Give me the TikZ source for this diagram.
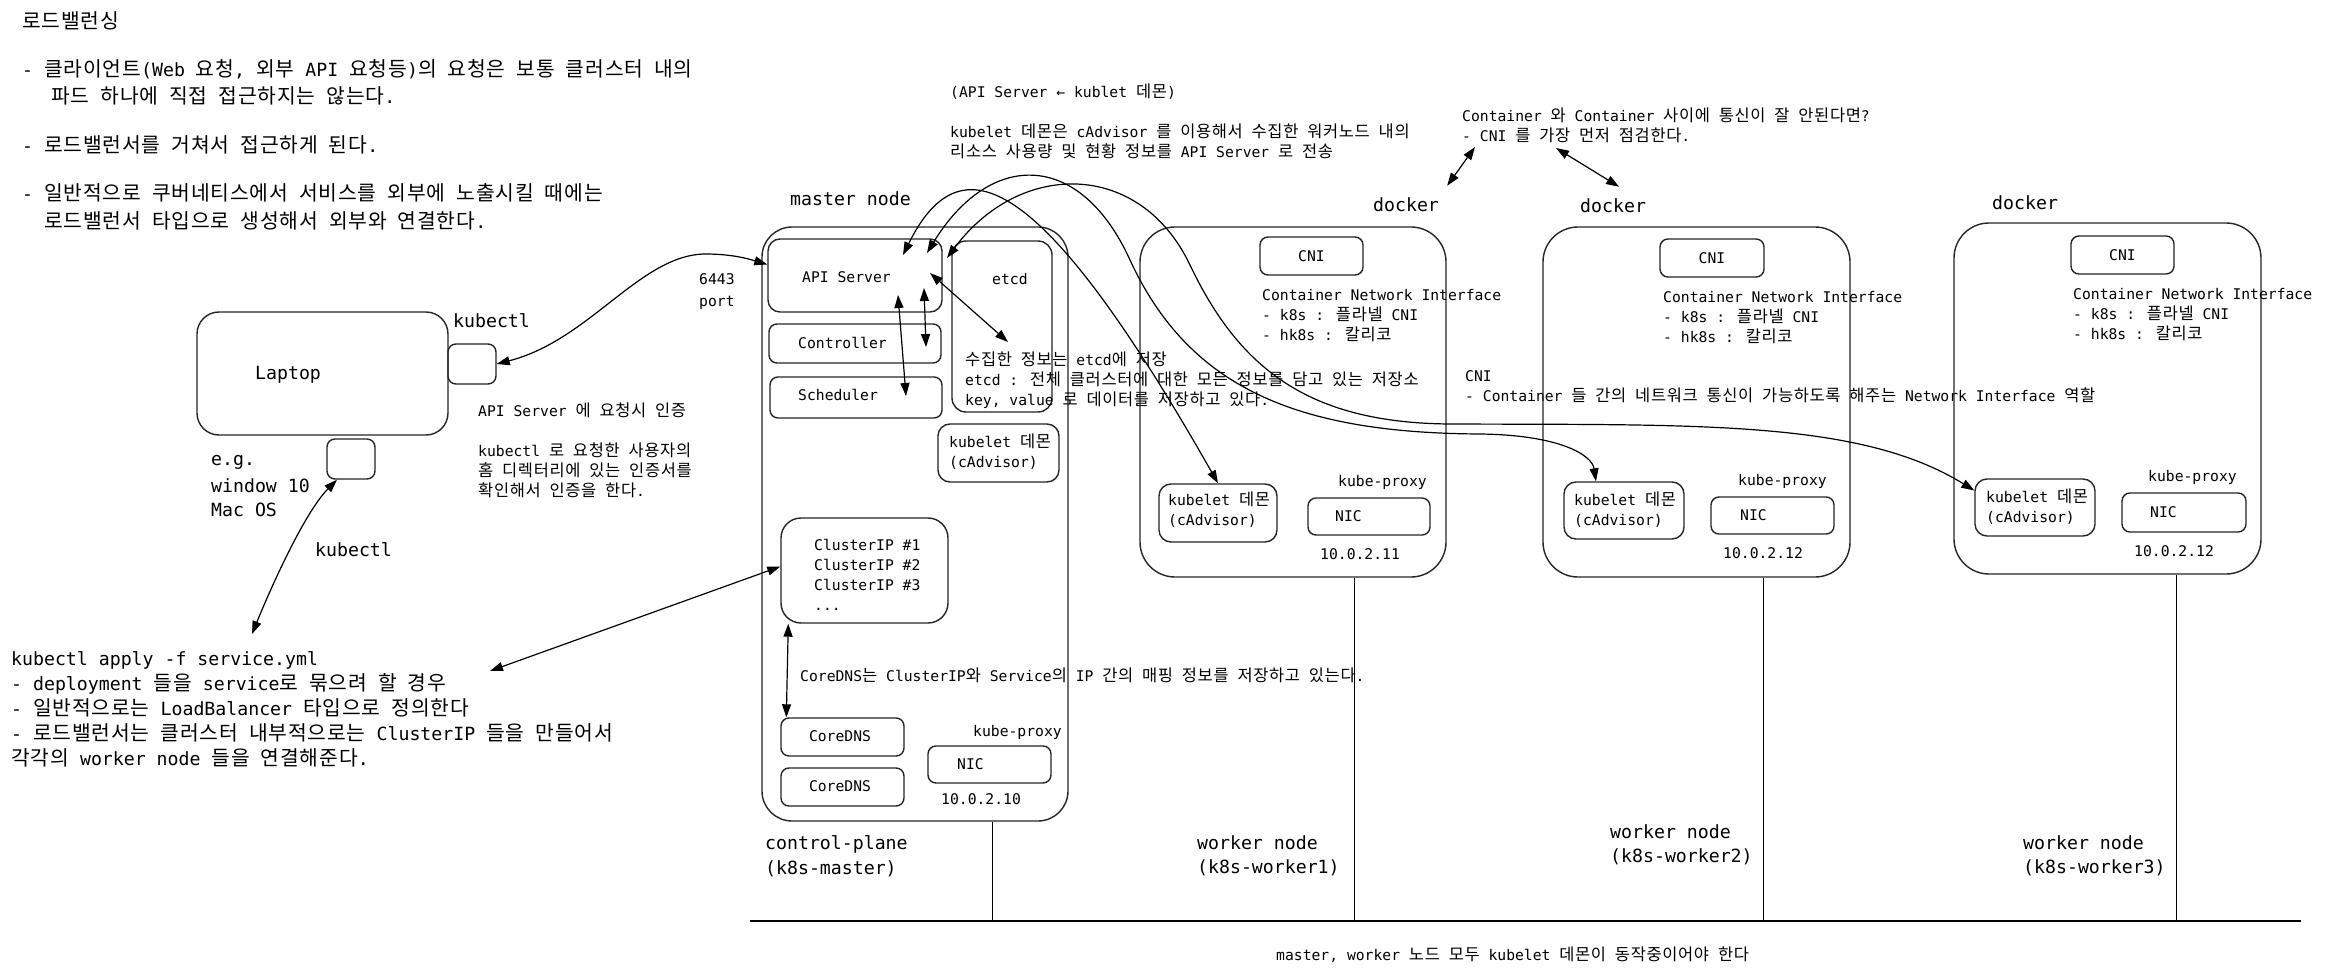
\documentclass[tikz,border=0pt]{standalone}
\usepackage{fontspec}
\setmainfont{DejaVu Sans Mono}
\newfontfamily\latfont{DejaVu Sans Mono}
\newfontfamily\krfont[Scale=1.12,LetterSpace=4]{Noto Sans CJK KR}
\usetikzlibrary{arrows.meta}
% Hangul syllables and jamo are set in the CJK face, everything else in the mono face
\XeTeXinterchartokenstate=1
\newXeTeXintercharclass\hangulcls
\newcount\hcnt
\hcnt="AC00
\loop \XeTeXcharclass\hcnt=\hangulcls \ifnum\hcnt<"D7A3 \advance\hcnt by 1 \repeat
\hcnt="3131
\loop \XeTeXcharclass\hcnt=\hangulcls \ifnum\hcnt<"318E \advance\hcnt by 1 \repeat
\XeTeXinterchartoks 0 \hangulcls = {\krfont}
\XeTeXinterchartoks 4095 \hangulcls = {\krfont}
\XeTeXinterchartoks \hangulcls 0 = {\latfont}
\XeTeXinterchartoks \hangulcls 4095 = {\latfont}
\newcommand\txtbig{\fontsize{18.2}{24.5}\selectfont}
\newcommand\txtsmall{\fontsize{14.7}{20}\selectfont}
\begin{document}
\begin{tikzpicture}[x=1pt,y=-1pt,
  >={Triangle[length=13pt,width=9pt]},
  rbox/.style={draw=black!85, line width=1.4pt, rounded corners=#1, inner sep=0pt},
  rbox/.default=8pt,
  sz/.style 2 args={minimum width=#1pt, minimum height=#2pt},
  big/.style={anchor=west, inner sep=0pt, font=\txtbig, align=left},
  small/.style={anchor=west, inner sep=0pt, font=\txtsmall, align=left},
  mid/.style={inner sep=0pt, font=\txtsmall},
  con/.style={line width=1.2pt, <->},
  wire/.style={line width=1pt}]
\fill[white] (0,0) rectangle (2343,976);
\useasboundingbox (0,0) rectangle (2343,976);

% ---------- notes, top left ----------
\node[big] (t0) at (22,21) {로드밸런싱};
\node[big] (t1) at (22,69) {- 클라이언트(Web 요청, 외부 API 요청등)의 요청은 보통 클러스터 내의};
\node[big] (t2) at (51,96) {파드 하나에 직접 접근하지는 않는다.};
\node[big] (t3) at (22,145) {- 로드밸런서를 거쳐서 접근하게 된다.};
\node[big] (t4) at (22,193) {- 일반적으로 쿠버네티스에서 서비스를 외부에 노출시킬 때에는};
\node[big] (t5) at (44,221) {로드밸런서 타입으로 생성해서 외부와 연결한다.};

% ---------- laptop ----------
\node[rbox=22pt, sz={251}{123}] (laptop) at (322.5,373.5) {};
\node[rbox, sz={48}{40}] (lsq) at (472,364) {};
\node[rbox, sz={48}{40}] (bsq) at (351,459) {};
\node[big] (laptopT) at (255,375) {Laptop};
\node[big] (kctl1) at (453,321) {kubectl};
\node[big] (eg) at (211,462) {e.g.};
\node[big] (win) at (211,486) {window 10};
\node[big] (mac) at (211,510) {Mac OS};
\node[big] (kctl2) at (315,550) {kubectl};
\node[small] (auth1) at (478,410) {API Server 에 요청시 인증};
\node[small] (auth2) at (478,470) {kubectl 로 요청한 사용자의\\홈 디렉터리에 있는 인증서를\\확인해서 인증을 한다.};
\node[small] (port) at (699,292) {6443\\[2pt]port};

% ---------- kubectl apply notes ----------
\node[big] (a1) at (11,660) {kubectl apply -f service.yml};
\node[big] (a2) at (11,684) {- deployment 들을 service로 묶으려 할 경우};
\node[big] (a3) at (11,708) {- 일반적으로는 LoadBalancer 타입으로 정의한다};
\node[big] (a4) at (11,733) {- 로드밸런서는 클러스터 내부적으로는 ClusterIP 들을 만들어서};
\node[big] (a5) at (11,758) {각각의 worker node 들을 연결해준다.};

% ---------- master node ----------
\node[big] (mlabel) at (790,199) {master node};
\node[rbox=30pt, sz={306}{594}] (master) at (915,524) {};
\node[rbox=12pt, sz={174}{73}] (api) at (855,275.5) {};
\node[rbox=14pt, sz={100}{171}] (etcd) at (1002,326.5) {};
\node[rbox, sz={172}{39}] (ctrl) at (855,343.5) {};
\node[rbox, sz={172}{41}] (sched) at (856,397.5) {};
\node[rbox=12pt, sz={121}{58}] (mkub) at (998.5,453) {};
\node[rbox=20pt, sz={167}{105}] (cip) at (864.5,570.5) {};
\node[rbox, sz={123}{38}] (dns1) at (842.5,737) {};
\node[rbox, sz={123}{38}] (dns2) at (842.5,787) {};
\node[rbox, sz={123}{37}] (mnic) at (989.5,764.5) {};
\node[small] (apiT) at (802,277) {API Server};
\node[small] (etcdT) at (992,279) {etcd};
\node[small] (ctrlT) at (798,343) {Controller};
\node[small] (schedT) at (798,395) {Scheduler};
\node[small] (mkubT) at (949,452) {kubelet 데몬\\(cAdvisor)};
\node[small] (cipT) at (814,575) {ClusterIP \#1\\ClusterIP \#2\\ClusterIP \#3\\...};
\node[mid] (dns1T) at (840,736) {CoreDNS};
\node[mid] (dns2T) at (840,786) {CoreDNS};
\node[small] (mnicT) at (957,764) {NIC};
\node[small] (mproxy) at (973,732) {kube-proxy};
\node[small] (mip) at (941,799) {10.0.2.10};
\node[big] (cp) at (765,856) {control-plane\\(k8s-master)};
\node[small] (etcdNote) at (965,380) {수집한 정보는 etcd에 저장\\etcd : 전체 클러스터에 대한 모든 정보를 담고 있는 저장소\\key, value 로 데이터를 저장하고 있다.};
\node[small] (dnsNote) at (800,675) {CoreDNS는 ClusterIP와 Service의 IP 간의 매핑 정보를 저장하고 있는다.};

% ---------- notes, top middle ----------
\node[small] (kubNote0) at (950,92) {(API Server ← kublet 데몬)};
\node[small] (kubNote) at (950,141.5) {kubelet 데몬은 cAdvisor 를 이용해서 수집한 워커노드 내의\\리소스 사용량 및 현황 정보를 API Server 로 전송};
\node[small] (cniQ) at (1462,125.5) {Container 와 Container 사이에 통신이 잘 안된다면?\\- CNI 를 가장 먼저 점검한다.};
\node[small] (cniNote) at (1465,387) {CNI\\- Container 들 간의 네트워크 통신이 가능하도록 해주는 Network Interface 역할};

% ---------- worker 1 ----------
\node[big] (d1) at (1373,205) {docker};
\node[rbox=35pt, sz={306}{350}] (w1) at (1293,402) {};
\node[rbox, sz={103}{38}] (w1cni) at (1311.5,256) {};
\node[mid] (w1cniT) at (1311.5,256) {CNI};
\node[small] (w1txt) at (1262,315.5) {Container Network Interface\\- k8s : 플라넬 CNI\\- hk8s : 칼리코};
\node[rbox=12pt, sz={118}{58}] (w1kub) at (1218,513) {};
\node[small] (w1kubT) at (1168,510) {kubelet 데몬\\(cAdvisor)};
\node[rbox, sz={122}{37}] (w1nic) at (1369,516.5) {};
\node[small] (w1nicT) at (1335,516) {NIC};
\node[small] (w1proxy) at (1338,482) {kube-proxy};
\node[small] (w1ip) at (1320,554) {10.0.2.11};
\node[big] (w1lbl) at (1197,856) {worker node\\(k8s-worker1)};

% ---------- worker 2 ----------
\node[big] (d2) at (1580,206) {docker};
\node[rbox=35pt, sz={307}{350}] (w2) at (1696.5,402) {};
\node[rbox, sz={104}{38}] (w2cni) at (1712,258) {};
\node[mid] (w2cniT) at (1712,258) {CNI};
\node[small] (w2txt) at (1663,318) {Container Network Interface\\- k8s : 플라넬 CNI\\- hk8s : 칼리코};
\node[rbox=12pt, sz={120}{57}] (w2kub) at (1624,510.5) {};
\node[small] (w2kubT) at (1574,510) {kubelet 데몬\\(cAdvisor)};
\node[rbox, sz={123}{37}] (w2nic) at (1772.5,515.5) {};
\node[small] (w2nicT) at (1740,515) {NIC};
\node[small] (w2proxy) at (1738,481) {kube-proxy};
\node[small] (w2ip) at (1723,553) {10.0.2.12};
\node[big] (w2lbl) at (1610,845) {worker node\\(k8s-worker2)};

% ---------- worker 3 ----------
\node[big] (d3) at (1992,203) {docker};
\node[rbox=35pt, sz={307}{351}] (w3) at (2107.5,398.5) {};
\node[rbox, sz={103}{38}] (w3cni) at (2122.5,255) {};
\node[mid] (w3cniT) at (2122.5,255) {CNI};
\node[small] (w3txt) at (2073,315) {Container Network Interface\\- k8s : 플라넬 CNI\\- hk8s : 칼리코};
\node[rbox=12pt, sz={120}{57}] (w3kub) at (2035,507.5) {};
\node[small] (w3kubT) at (1986,507) {kubelet 데몬\\(cAdvisor)};
\node[rbox, sz={124}{39}] (w3nic) at (2184,512.5) {};
\node[small] (w3nicT) at (2150,512) {NIC};
\node[small] (w3proxy) at (2148,477) {kube-proxy};
\node[small] (w3ip) at (2134,551) {10.0.2.12};
\node[big] (w3lbl) at (2023,856) {worker node\\(k8s-worker3)};

% ---------- network ----------
\coordinate (gL) at (750,921);
\coordinate (gR) at (2301,921);
\draw[line width=2.4pt] (gL) -- (gR);
\draw[wire] (master.south -| mip.east) ++(-29,0) coordinate (mdrop) -- (mdrop |- gL);
\draw[wire] (w1.south -| w1nic.west) ++(47,0) coordinate (w1drop) -- (w1drop |- gL);
\draw[wire] (w2.south -| w2nic.west) ++(53,0) coordinate (w2drop) -- (w2drop |- gL);
\draw[wire] (w3.south -| w3nic.west) ++(55,0) coordinate (w3drop) -- (w3drop |- gL);
\node[small] (allNote) at (1276,955) {master, worker 노드 모두 kubelet 데몬이 동작중이어야 한다};

% ---------- connectors ----------
\draw[con] (lsq.east) .. controls (590,340) and (640,255) .. (705,254)
           .. controls (735,254) and (752,260) .. ([yshift=11pt]api.west);
\coordinate (svcTop) at (252,634);
\draw[con] (svcTop) .. controls (272,585) and (305,512) .. ([xshift=-14pt]bsq.south);
\coordinate (svcRight) at (490,671);
\draw[con] (svcRight) -- ([yshift=4pt]cip.west);

\coordinate (apiS) at (898,295);
\coordinate (schedIn) at (906,396);
\draw[con] (apiS) -- (schedIn);
\coordinate (apiC) at (924,288);
\coordinate (ctrlIn) at (926,347);
\draw[con] (apiC) -- (ctrlIn);
\coordinate (apiE) at (930,273);
\coordinate (noteIn) at (1008,342);
\draw[con] (apiE) -- (noteIn);
\draw[con] ([xshift=8pt]cip.south west) -- ([xshift=6pt]dns1.north west);

\coordinate (k1) at (903,255);
\coordinate (k2) at (927,253);
\coordinate (k3) at (947,258);
\draw[con] (k1) .. controls (960,140) and (1040,170) .. (w1kub.north);
\draw[con] (k2) .. controls (990,150) and (1080,150) .. (1130,260)
           .. controls (1190,390) and (1300,433) .. (1480,434)
           .. controls (1560,435) and (1592,455) .. ([xshift=-28pt]w2kub.north);
\draw[con] (k3) .. controls (1020,160) and (1140,160) .. (1190,265)
           .. controls (1240,370) and (1310,423) .. (1450,424)
           .. controls (1700,425) and (1860,420) .. ([yshift=17pt]w3kub.west);

\coordinate (q1) at (1475,147);
\coordinate (q2) at (1556,148);
\draw[con] (q1) -- ([xshift=8pt,yshift=12pt]d1.north east);
\draw[con] (q2) -- ([xshift=6pt,yshift=12pt]d2.north);
\end{tikzpicture}
\end{document}
